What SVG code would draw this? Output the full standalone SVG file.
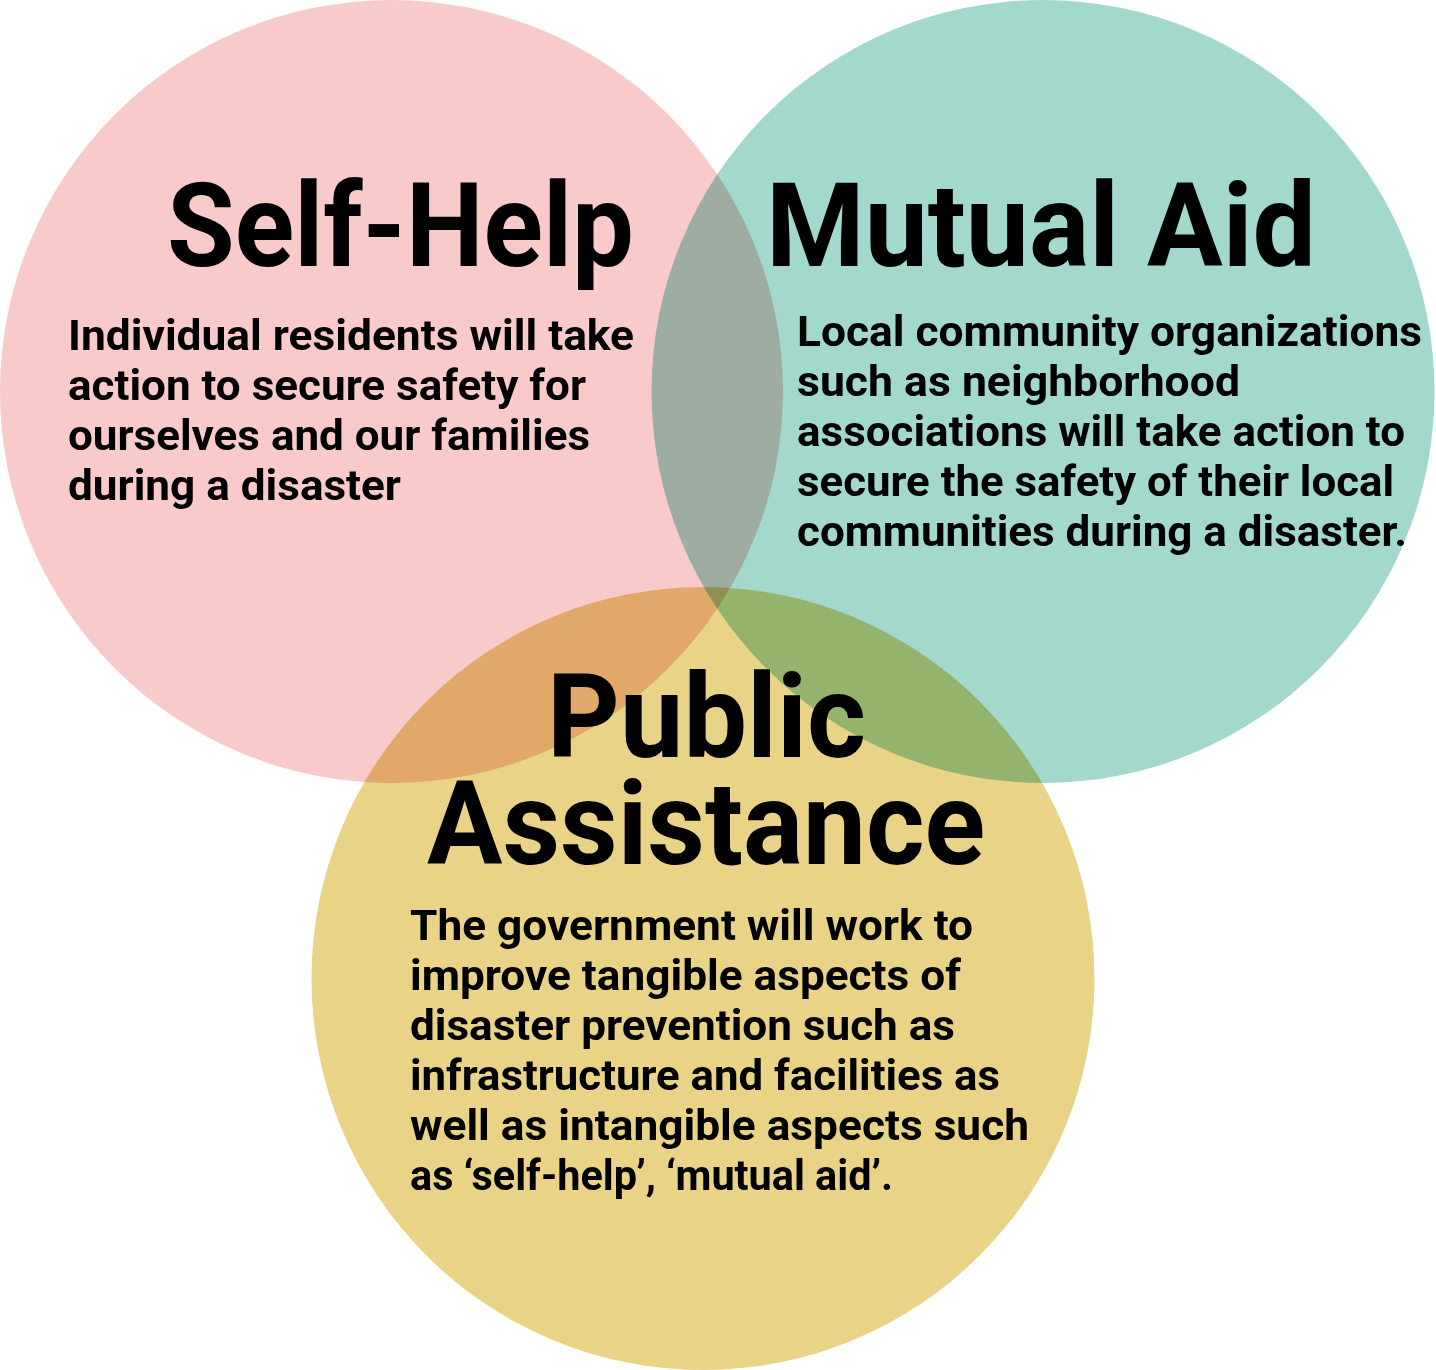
<svg xmlns="http://www.w3.org/2000/svg" width="1436" height="1370" viewBox="0 0 1436 1370">
<style>
.c{mix-blend-mode:multiply}
.t{font-family:Roboto,"Liberation Sans",sans-serif;font-weight:700;fill:#000}
.h{font-size:116px}
.b{font-size:42px}
</style>
<rect width="1436" height="1370" fill="#fff"/>
<g style="isolation:isolate">
<g id="self-help">
<circle class="c" cx="391.5" cy="391.5" r="391.5" fill="#F8CBCA"/>
</g>
<g id="mutual-aid">
<circle class="c" cx="1043" cy="391.5" r="391.5" fill="#A3D9CD"/>
</g>
<g id="public-assistance">
<circle class="c" cx="703" cy="978.5" r="391.5" fill="#E8D386"/>
</g>
</g>
<g id="self-help-text">
<text class="t h" x="167" y="266" textLength="467" lengthAdjust="spacingAndGlyphs">Self-Help</text>
<text class="t b" x="68" y="350" textLength="566" lengthAdjust="spacingAndGlyphs">Individual residents will take</text>
<text class="t b" x="68" y="400" textLength="518" lengthAdjust="spacingAndGlyphs">action to secure safety for</text>
<text class="t b" x="68" y="450" textLength="522" lengthAdjust="spacingAndGlyphs">ourselves and our families</text>
<text class="t b" x="68" y="500" textLength="333" lengthAdjust="spacingAndGlyphs">during a disaster</text>
</g>
<g id="mutual-aid-text">
<text class="t h" x="766" y="266" textLength="550" lengthAdjust="spacingAndGlyphs">Mutual Aid</text>
<text class="t b" x="797" y="346" textLength="625" lengthAdjust="spacingAndGlyphs">Local community organizations</text>
<text class="t b" x="797" y="396" textLength="443" lengthAdjust="spacingAndGlyphs">such as neighborhood</text>
<text class="t b" x="797" y="446" textLength="608" lengthAdjust="spacingAndGlyphs">associations will take action to</text>
<text class="t b" x="797" y="496" textLength="597" lengthAdjust="spacingAndGlyphs">secure the safety of their local</text>
<text class="t b" x="797" y="546" textLength="610" lengthAdjust="spacingAndGlyphs">communities during a disaster.</text>
</g>
<g id="public-assistance-text">
<text class="t h" x="547" y="757" textLength="319" lengthAdjust="spacingAndGlyphs">Public</text>
<text class="t h" x="427" y="864" textLength="558" lengthAdjust="spacingAndGlyphs">Assistance</text>
<text class="t b" x="410" y="940" textLength="563" lengthAdjust="spacingAndGlyphs">The government will work to</text>
<text class="t b" x="410" y="990" textLength="551" lengthAdjust="spacingAndGlyphs">improve tangible aspects of</text>
<text class="t b" x="410" y="1040" textLength="545" lengthAdjust="spacingAndGlyphs">disaster prevention such as</text>
<text class="t b" x="410" y="1090" textLength="590" lengthAdjust="spacingAndGlyphs">infrastructure and facilities as</text>
<text class="t b" x="410" y="1140" textLength="619" lengthAdjust="spacingAndGlyphs">well as intangible aspects such</text>
<text class="t b" x="410" y="1190" textLength="483" lengthAdjust="spacingAndGlyphs">as ‘self-help’, ‘mutual aid’.</text>
</g>
</svg>
